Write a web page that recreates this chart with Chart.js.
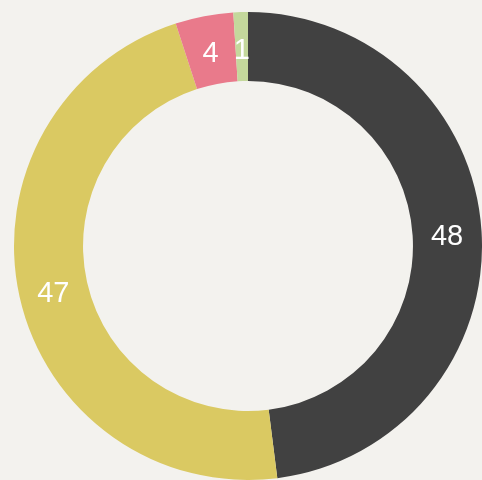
<!DOCTYPE html>
<html><head><meta charset="utf-8">
<script src="https://cdn.jsdelivr.net/npm/chart.js@4/dist/chart.umd.min.js"></script>
<style>
html,body{margin:0;padding:0;background:#f3f2ee;}
#wrap{width:482px;height:480px;position:relative;}
</style></head>
<body><div id="wrap"><canvas id="c" width="482" height="480"></canvas></div>
<script>
const categories = ["A", "B", "C", "D"];
const values = [48, 47, 4, 1];
const colors = ["#414141", "#dac962", "#e97a8b", "#c4d89c"];

const labelPlugin = {
  id: 'sliceLabels',
  afterDatasetsDraw(chart) {
    const ctx = chart.ctx;
    const meta = chart.getDatasetMeta(0);
    ctx.save();
    ctx.fillStyle = '#ffffff';
    ctx.font = '29px "Liberation Sans", Arial, sans-serif';
    ctx.textAlign = 'center';
    ctx.textBaseline = 'middle';
    meta.data.forEach((arc, i) => {
      const p = arc.tooltipPosition();
      ctx.fillText(String(values[i]), p.x, p.y + 4);
    });
    ctx.restore();
  }
};

new Chart(document.getElementById('c'), {
  type: 'doughnut',
  data: {
    labels: categories,
    datasets: [{ data: values, backgroundColor: colors, borderWidth: 0 }]
  },
  options: {
    responsive: false,
    animation: false,
    cutout: '70.5%',
    layout: { padding: { left: 14, top: 12, right: 0, bottom: 0 } },
    plugins: { legend: { display: false }, tooltip: { enabled: false } }
  },
  plugins: [labelPlugin]
});
</script></body></html>
